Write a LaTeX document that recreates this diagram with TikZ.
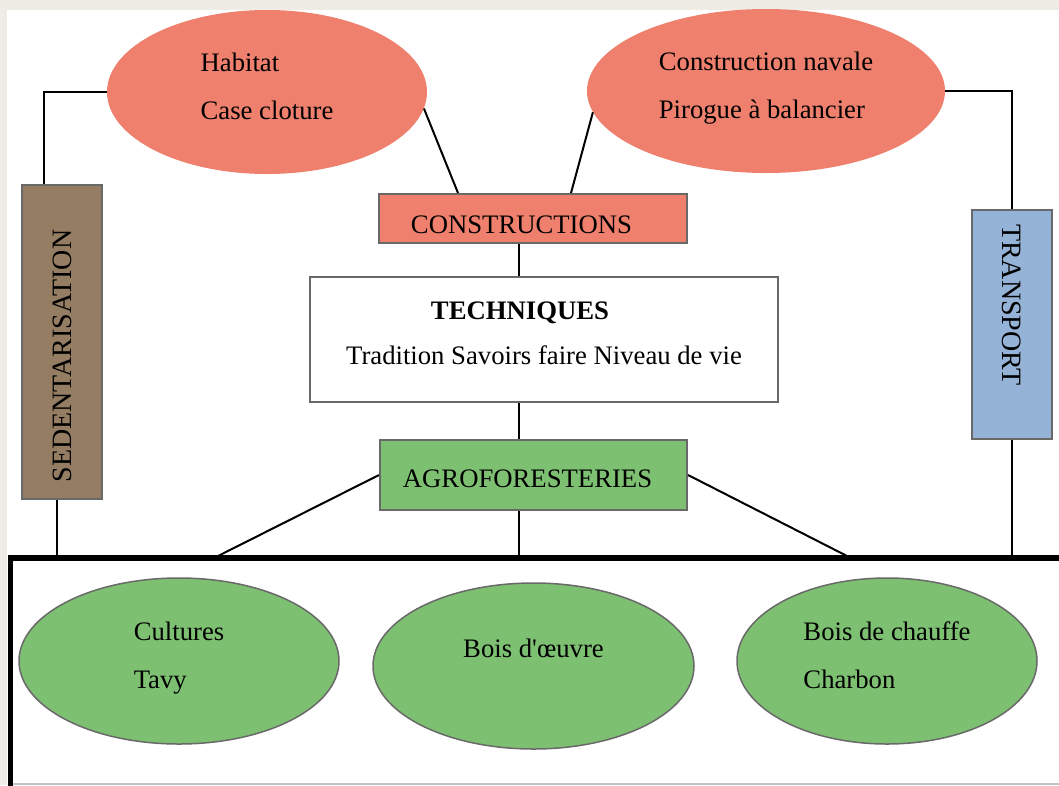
\documentclass[tikz,border=0pt]{standalone}
\usepackage{fontspec}
\setmainfont{Liberation Serif}
\usetikzlibrary{shapes.geometric,positioning}
\definecolor{PageBeige}{RGB}{238,236,228}
\definecolor{BuildSalmon}{RGB}{240,128,110}
\definecolor{AgroGreen}{RGB}{126,192,114}
\definecolor{SettleBrown}{RGB}{148,125,98}
\definecolor{MoveBlue}{RGB}{149,179,215}
\definecolor{EdgeGray}{RGB}{105,105,105}
% invisible rule: height #1, depth #2
\newcommand{\padtext}[2]{\rule[-#2]{0pt}{\dimexpr #1+#2\relax}}

\begin{document}
\begin{tikzpicture}[
    x=1pt, y=-1pt,
    txt/.style={font=\fontsize{26.7}{48}\selectfont},
    box/.style={draw=EdgeGray, line width=2pt, inner sep=0pt, align=center, txt},
    blob/.style={ellipse, inner sep=0pt, align=left, txt,
                 minimum width=320pt, minimum height=164pt},
    link/.style={line width=2pt},
    node distance=32pt
]
    % page
    \fill[PageBeige] (0,0) rectangle (1059,785);
    \fill[white] (7,10) rectangle (1059,785);
    \useasboundingbox (0,0) rectangle (1059,785);

    % upper ellipses
    \node[blob, fill=BuildSalmon] (habitat) at (267,92) {Habitat\\Case cloture\padtext{0pt}{12pt}};
    \node[blob, fill=BuildSalmon, minimum width=358pt] (naval) at (766,91)
        {Construction navale\\Pirogue à balancier\padtext{0pt}{12pt}};

    % central column
    \node[box, fill=BuildSalmon, minimum width=308pt, minimum height=49pt] (cons) at (533,218.5)
        {CONSTRUCTIONS\hspace*{23pt}\padtext{31pt}{0pt}};
    \node[box, fill=white, minimum width=468pt, minimum height=125pt,
          font=\fontsize{26.7}{45}\selectfont, below=of cons, xshift=11pt] (tech)
        {\textbf{TECHNIQUES}\hspace*{48pt}\\Tradition Savoirs faire Niveau de vie\padtext{0pt}{12pt}};
    \node[box, fill=AgroGreen, minimum width=307pt, minimum height=70pt,
          below=36pt of tech, xshift=-10.5pt] (agro)
        {AGROFORESTERIES\hspace*{12pt}\padtext{26pt}{0pt}};

    % side boxes
    \node[box, fill=SettleBrown, minimum width=80pt, minimum height=314pt] (sed) at (62,342)
        {\rotatebox{90}{\fontsize{28}{34}\selectfont SEDENTARISATION\hspace*{28pt}}};
    \node[box, fill=MoveBlue, minimum width=80pt, minimum height=229pt] (transp) at (1012,324.5)
        {\rotatebox{-90}{\fontsize{28}{34}\selectfont TRANSPORT\hspace*{39pt}}};

    % lower ellipses
    \node[blob, fill=AgroGreen, draw=EdgeGray, line width=1.5pt, minimum height=166pt] (crops) at (179,661)
        {Cultures\\Tavy\padtext{0pt}{12pt}};
    \node[blob, fill=AgroGreen, draw=EdgeGray, line width=1.5pt, minimum width=321pt,
          minimum height=166pt] (timber) at (533.5,666) {Bois d\textquotesingle œuvre\padtext{0pt}{36pt}};
    \node[blob, fill=AgroGreen, draw=EdgeGray, line width=1.5pt, minimum width=300pt,
          minimum height=166pt] (fuel) at (887,661) {Bois de chauffe\\Charbon\padtext{0pt}{12pt}};

    % connectors
    \coordinate (spine) at (519,0);
    \coordinate (field) at (0,556);
    \coordinate (fieldL) at (218,556);
    \coordinate (fieldR) at (847,556);
    \draw[link] (habitat.west) -| ([xshift=23pt]sed.north west);
    \draw[link] (habitat.-6.6) -- ([xshift=80pt]cons.north west);
    \draw[link] (naval.-173.3) -- ([xshift=193pt]cons.north west);
    \draw[link] (naval.east) -| (transp.north);
    \draw[link] (spine |- cons.south) -- (spine |- tech.north);
    \draw[link] (spine |- tech.south) -- (spine |- agro.north);
    \draw[link] (agro.west) -- (fieldL);
    \draw[link] (spine |- agro.south) -- (spine |- field);
    \draw[link] (agro.east) -- (fieldR);
    \draw[link] ([xshift=-5pt]sed.south) -- ([xshift=-5pt]sed.south |- field);
    \draw[link] (transp.south) -- (transp.south |- field);

    % bottom frame
    \draw[EdgeGray!40, line width=1.5pt] (10,784) -- (1059,784);
    \draw[line width=5.5pt] (1062,558) -- (10.5,558) -- (10.5,788);
\end{tikzpicture}
\end{document}
